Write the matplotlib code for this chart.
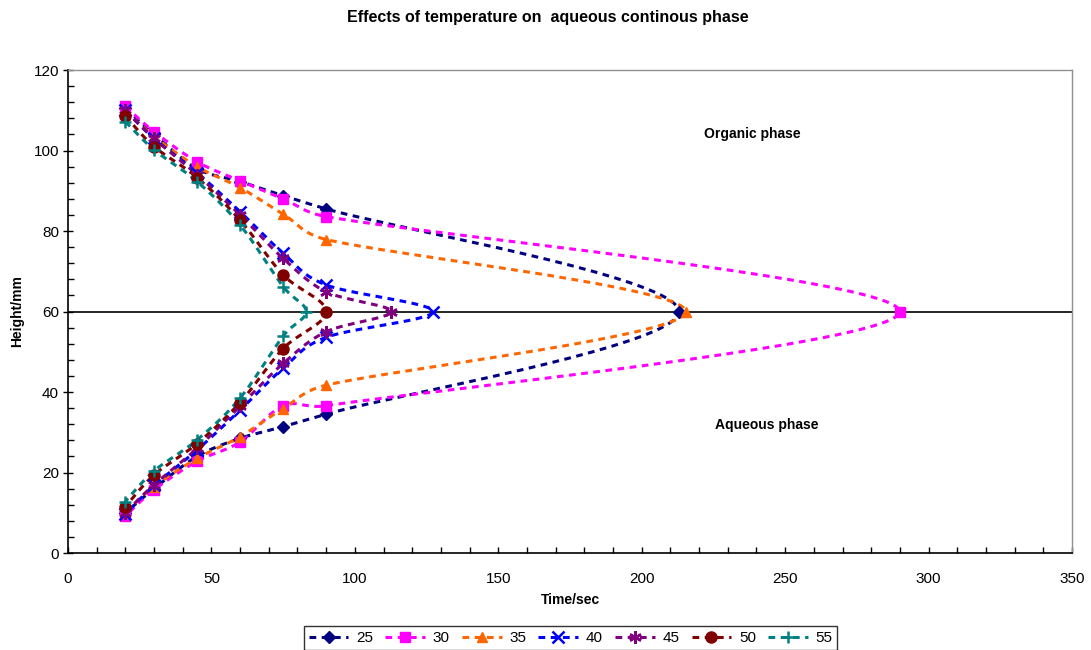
import numpy as np
import matplotlib
matplotlib.use("Agg")
import matplotlib.pyplot as plt
from matplotlib.ticker import MultipleLocator

plt.rcParams['font.family'] = ['Liberation Sans', 'DejaVu Sans']

labels = ["25", "30", "35", "40", "45", "50", "55"]

time_25 = [20, 30, 45, 60, 75, 90, 213, 90, 75, 60, 45, 30, 20]
height_25 = [110.5, 104, 95.5, 92.3, 88.8, 85.5, 60, 34.5, 31.4, 28.5, 24, 16, 10]

time_30 = [20, 30, 45, 60, 75, 90, 290, 90, 75, 60, 45, 30, 20]
height_30 = [111, 104.7, 97.2, 92.5, 88, 83.6, 60, 36.6, 36.6, 27.6, 22.8, 15.7, 9.2]

time_35 = [20, 30, 45, 60, 75, 90, 215.4, 90, 75, 60, 45, 30, 20]
height_35 = [110, 103.5, 96, 90.8, 84.2, 77.9, 60, 41.7, 35.9, 28.9, 23.5, 16.5, 10]

time_40 = [20, 30, 45, 60, 75, 90, 127.3, 90, 75, 60, 45, 30, 20]
height_40 = [110, 103, 94.5, 84.8, 74.5, 66.6, 60, 53.6, 45.9, 35.5, 25.6, 16.8, 9.6]

time_45 = [20, 30, 45, 60, 75, 90, 112.6, 90, 75, 60, 45, 30, 20]
height_45 = [110, 103, 94, 84, 73.2, 64.9, 60, 55, 47.1, 36.5, 26, 17, 10]

time_50 = [20, 30, 45, 60, 75, 90, 75, 60, 45, 30, 20]
height_50 = [108.6, 101, 93.3, 82.7, 69.1, 60, 50.8, 37.4, 27.2, 19.4, 11.5]

time_55 = [20, 30, 45, 60, 75, 83, 75, 60, 45, 30, 20]
height_55 = [107.2, 100.2, 92.3, 81.5, 66.2, 60, 53.9, 38.5, 28.1, 20.4, 12.8]

times = [time_25, time_30, time_35, time_40, time_45, time_50, time_55]
heights = [height_25, height_30, height_35, height_40, height_45, height_50, height_55]

colors = ["#000080", "#FF00FF", "#FF6600", "#0000FF", "#800080", "#800000", "#008080"]
markers = ["D", "s", "^", "x", (6, 2, 0), "o", "+"]
msizes = [6, 7.5, 7.5, 8, 9, 8, 9]

fig = plt.figure(figsize=(10.91, 6.5), dpi=100)
ax = fig.add_axes([0.0623, 0.1492, 0.9203, 0.743])
ax.set_xlim(0, 350)
ax.set_ylim(0, 120)


def smooth(x, y, n=40):
    # Excel-style Bezier smoothing computed in display space
    pts = ax.transData.transform(np.column_stack([x, y]).astype(float))
    m = len(pts)
    out = []
    for i in range(m - 1):
        p0 = pts[i - 1] if i > 0 else pts[i]
        p1 = pts[i]
        p2 = pts[i + 1]
        p3 = pts[i + 2] if i + 2 < m else pts[i + 1]
        d12 = np.linalg.norm(p2 - p1)
        d02 = np.linalg.norm(p2 - p0)
        d13 = np.linalg.norm(p3 - p1)
        f = 1.0 / 6.0
        g = 1.0 / 6.0
        if d02 > 0:
            f = min(f, 0.5 * d12 / d02)
        if d13 > 0:
            g = min(g, 0.5 * d12 / d13)
        c1 = p1 + (p2 - p0) * f
        c2 = p2 - (p3 - p1) * g
        t = np.linspace(0, 1, n)[:, None]
        seg = ((1 - t) ** 3) * p1 + 3 * ((1 - t) ** 2) * t * c1 + 3 * (1 - t) * t ** 2 * c2 + t ** 3 * p2
        if i > 0:
            seg = seg[1:]
        out.append(seg)
    out = np.vstack(out)
    d = ax.transData.inverted().transform(out)
    return d[:, 0], d[:, 1]


ax.axhline(60, color="black", lw=1.2, zorder=1)

for t, h, c, mk, ms, lab in zip(times, heights, colors, markers, msizes, labels):
    sx, sy = smooth(t, h)
    ax.plot(sx, sy, color=c, lw=2.2, ls=(0, (2.2, 1.8)), zorder=2)
    mew = 1.8 if mk in ("x", "+") or isinstance(mk, tuple) else 1.0
    ax.plot(t, h, ls="none", marker=mk, color=c, ms=ms, mew=mew, zorder=3)
    ax.plot([], [], color=c, lw=2.2, ls=(0, (2.2, 1.8)), marker=mk, ms=ms, mew=mew, label=lab)

ax.xaxis.set_major_locator(MultipleLocator(50))
ax.xaxis.set_minor_locator(MultipleLocator(10))
ax.yaxis.set_major_locator(MultipleLocator(20))
ax.yaxis.set_minor_locator(MultipleLocator(4))
ax.tick_params(which="both", direction="in", length=4, width=1, labelsize=11, colors="black")
ax.tick_params(axis="y", which="major", direction="inout", length=7)
ax.tick_params(axis="x", which="major", pad=14)
ax.tick_params(axis="y", which="major", pad=3)

for s in ["left", "bottom"]:
    ax.spines[s].set_color("black")
    ax.spines[s].set_linewidth(1.2)
for s in ["top", "right"]:
    ax.spines[s].set_color("#909090")
    ax.spines[s].set_linewidth(1.0)

fig.text(0.523, 0.0769, "Time/sec", fontsize=10, fontweight="bold", ha="center", va="center")
fig.text(17 / 1091, 0.5208, "Height/mm", fontsize=10, fontweight="bold", ha="center",
         va="center", rotation=90)
fig.suptitle("Effects of temperature on  aqueous continous phase", fontsize=11.5,
             fontweight="bold", x=0.502, y=0.985)

ax.text(238.4, 104.1, "Organic phase", fontsize=10, fontweight="bold", ha="center", va="center")
ax.text(243.6, 31.8, "Aqueous phase", fontsize=10, fontweight="bold", ha="center", va="center")

leg = fig.legend(loc="center", bbox_to_anchor=(0.523, 0.0185), ncol=7, fontsize=11,
                 frameon=True, fancybox=False, edgecolor="black", handlelength=2.6,
                 handletextpad=0.5, columnspacing=0.8, borderpad=0.3)
leg.get_frame().set_linewidth(1.0)

fig.savefig("out.png", dpi=100)
